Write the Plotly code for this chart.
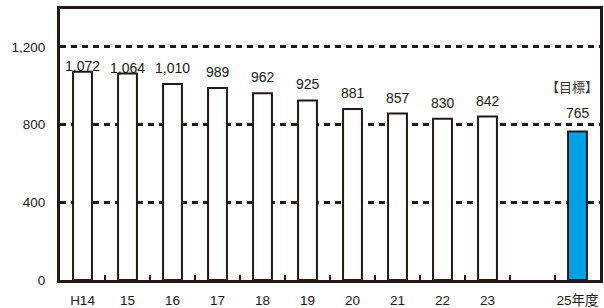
import plotly.graph_objects as go

categories = ["H14", "15", "16", "17", "18", "19", "20", "21", "22", "23", " ", "25年度"]
values = [1072, 1064, 1010, 989, 962, 925, 881, 857, 830, 842, None, 765]
labels = ["1,072", "1,064", "1,010", "989", "962", "925", "881", "857", "830", "842", "", "765"]
label_shift = [6, 5, 16, 16, 16, 16, 16, 16, 16, 16, 0, 18]
y_ticks = [0, 400, 800, 1200]

INK = "#231815"
BLUE = "#00A0E9"

colors = ["white"] * 11 + [BLUE]

fig = go.Figure()
fig.add_trace(go.Bar(
    x=categories, y=values, width=0.42,
    marker=dict(color=colors, line=dict(color=INK, width=2)),
    hoverinfo="skip",
))

for i, (v, t, s) in enumerate(zip(values, labels, label_shift)):
    if v is None:
        continue
    fig.add_annotation(x=i, y=v, text=t, showarrow=False, yanchor="middle",
                       yshift=s, font=dict(family="Liberation Sans", size=14, color=INK))

fig.add_annotation(x=len(categories) - 1, y=994, text="【目標】", showarrow=False, xshift=-6,
                   yanchor="middle",
                   font=dict(family="Noto Sans CJK JP", size=13, color="#333333"))

fig.update_layout(
    width=604, height=308,
    margin=dict(l=60, r=4, t=9, b=28),
    paper_bgcolor="white", plot_bgcolor="white",
    showlegend=False,
    font=dict(family="Liberation Sans, Noto Sans CJK JP", size=13.5, color=INK),
)
fig.update_xaxes(
    type="category", categoryorder="array", categoryarray=categories,
    range=[-0.5, 11.5], automargin=False, tickangle=0,
    showline=True, linecolor=INK, linewidth=3, mirror=True,
    ticks="inside", tickson="boundaries", ticklen=5, tickwidth=2, tickcolor=INK,
    showgrid=False, ticklabelstandoff=6,
    tickfont=dict(family="Liberation Sans, Noto Sans CJK JP", size=13.5, color=INK),
)
fig.update_yaxes(
    range=[0, 1395.6], tickvals=y_ticks, tickformat=",d", automargin=False,
    showline=True, linecolor=INK, linewidth=3, mirror=True,
    ticks="", showgrid=True, gridcolor=INK, gridwidth=2.5, griddash="6px,5px",
    zeroline=False, ticklabelstandoff=9,
    tickfont=dict(family="Liberation Sans", size=13.5, color=INK),
)

fig.write_html("out.html", config={"displayModeBar": False},
               post_script="document.body.style.margin='0';document.body.style.overflow='hidden';")
